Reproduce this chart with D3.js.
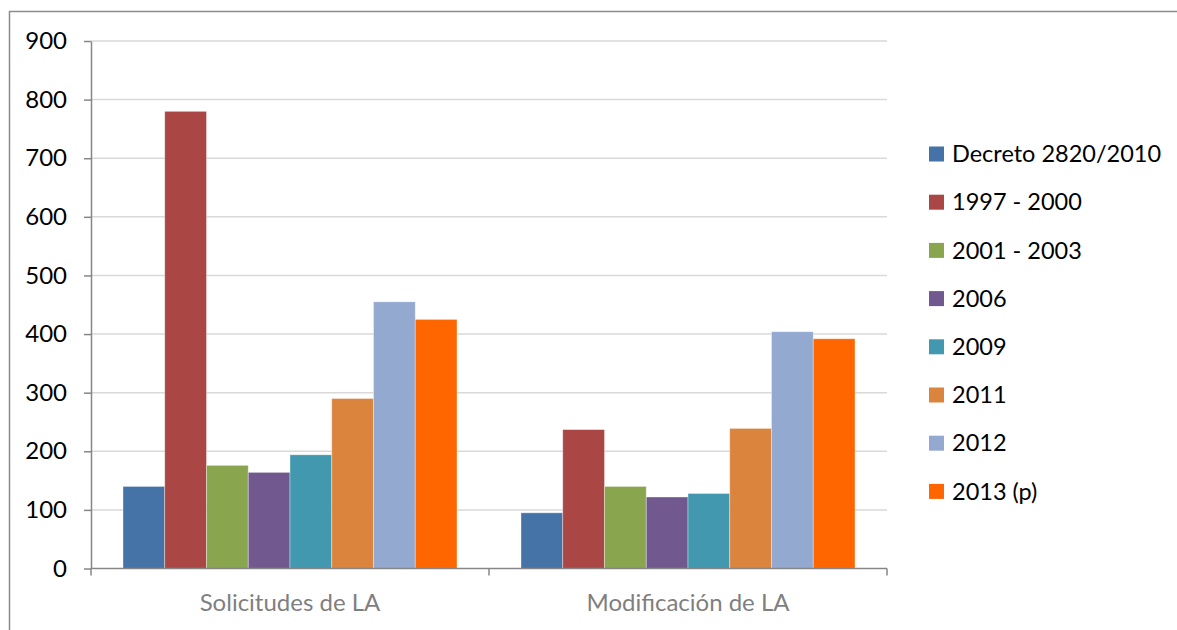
<!DOCTYPE html>
<html>
<head>
<meta charset="utf-8">
<script src="https://cdn.jsdelivr.net/npm/d3@7"></script>
<style>
  html, body { margin: 0; padding: 0; background: #fff; }
  svg { display: block; }
  text { font-family: Lato, "Open Sans", sans-serif; }
</style>
</head>
<body>
<svg id="chart" width="1177" height="630"></svg>
<script>
// Licencias ambientales: solicitudes y modificaciones por periodo
const categories = ["Solicitudes de LA", "Modificación de LA"];
const seriesNames = ["Decreto 2820/2010", "1997 - 2000", "2001 - 2003", "2006", "2009", "2011", "2012", "2013 (p)"];
const seriesColors = ["#4572A7", "#AA4643", "#89A54E", "#71588F", "#4198AF", "#DB843D", "#93A9CF", "#FF6600"];
const solicitudes = [140, 780, 176, 164, 194, 290, 455, 425];
const modificacion = [95, 237, 140, 122, 128, 239, 404, 392];
const yTicks = [0, 100, 200, 300, 400, 500, 600, 700, 800, 900];

const values = [solicitudes, modificacion];

const svg = d3.select("#chart");

// outer frame
svg.append("rect")
  .attr("x", 9.5).attr("y", 11.5)
  .attr("width", 1200).attr("height", 700)
  .attr("fill", "none").attr("stroke", "#8c8c8c").attr("stroke-width", 1.5);

const plot = { left: 91, right: 887, top: 41, bottom: 568.5 };

const y = d3.scaleLinear().domain([0, 900]).range([plot.bottom, plot.top]);
const x0 = d3.scaleBand().domain(categories).range([plot.left, plot.right]).paddingInner(0).paddingOuter(0);
const x1 = d3.scaleBand().domain(seriesNames)
  .range([32, x0.bandwidth() - 32]).paddingInner(0);

// gridlines
svg.append("g")
  .selectAll("line")
  .data(yTicks.filter(d => d > 0))
  .join("line")
  .attr("x1", plot.left).attr("x2", plot.right)
  .attr("y1", d => y(d)).attr("y2", d => y(d))
  .attr("stroke", "#d9d9d9").attr("stroke-width", 1.5);

// bars
const groups = svg.append("g")
  .selectAll("g")
  .data(categories)
  .join("g")
  .attr("transform", d => `translate(${x0(d)},0)`);

groups.selectAll("rect")
  .data((c, i) => seriesNames.map((s, j) => ({ s, v: values[i][j], color: seriesColors[j] })))
  .join("rect")
  .attr("x", d => x1(d.s))
  .attr("width", x1.bandwidth())
  .attr("y", d => y(d.v))
  .attr("height", d => y(0) - y(d.v))
  .attr("fill", d => d.color)
  .attr("stroke", "rgba(255,255,255,0.45)")
  .attr("stroke-width", 0.8);

// y axis
const yAxis = svg.append("g")
  .attr("transform", `translate(${plot.left},0)`)
  .call(d3.axisLeft(y).tickValues(yTicks).tickSize(7).tickSizeOuter(0).tickPadding(17));
yAxis.select(".domain").attr("stroke", "#868686").attr("stroke-width", 1.5);
yAxis.selectAll(".tick line").attr("stroke", "#868686").attr("stroke-width", 1.5);
yAxis.selectAll(".tick text")
  .attr("font-size", 24).attr("fill", "#000")
  .style("font-family", "Lato, 'Open Sans', sans-serif");

// x axis: baseline with ticks at category boundaries
const xAxis = svg.append("g").attr("transform", `translate(0,${plot.bottom})`);
xAxis.append("line")
  .attr("x1", plot.left).attr("x2", plot.right)
  .attr("stroke", "#868686").attr("stroke-width", 1.5);
const boundaries = categories.map(c => x0(c)).concat([x0.range()[1]]);
xAxis.selectAll("line.tick")
  .data(boundaries)
  .join("line")
  .attr("class", "tick")
  .attr("x1", d => d).attr("x2", d => d)
  .attr("y1", 0).attr("y2", 7)
  .attr("stroke", "#868686").attr("stroke-width", 1.5);
xAxis.selectAll("text")
  .data(categories)
  .join("text")
  .attr("x", d => x0(d) + x0.bandwidth() / 2)
  .attr("y", 42)
  .attr("text-anchor", "middle")
  .attr("font-size", 24)
  .attr("fill", "#7f7f7f")
  .text(d => d);

// legend
const legend = svg.append("g").attr("transform", "translate(929,154)");
const items = legend.selectAll("g")
  .data(seriesNames)
  .join("g")
  .attr("transform", (d, i) => `translate(0,${i * 48.2})`);
items.append("rect")
  .attr("x", 0).attr("y", -7.5)
  .attr("width", 15).attr("height", 15)
  .attr("fill", (d, i) => seriesColors[i]);
items.append("text")
  .attr("x", 23).attr("y", 0)
  .attr("dy", "0.35em")
  .attr("font-size", 23.5)
  .attr("fill", "#000")
  .text(d => d);
</script>
</body>
</html>
